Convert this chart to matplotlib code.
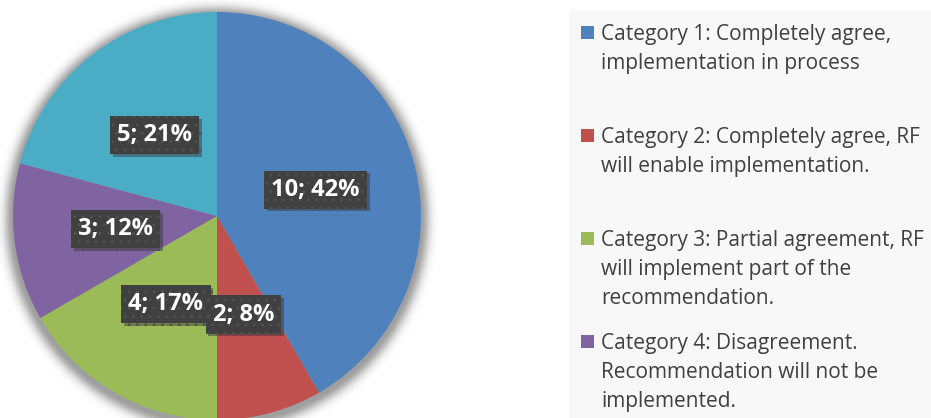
import matplotlib
matplotlib.use("Agg")
import matplotlib.pyplot as plt
import matplotlib.patheffects as pe
from matplotlib.patches import Rectangle
import numpy as np

categories = [
    "Category 1: Completely agree,\nimplementation in process",
    "Category 2: Completely agree, RF\nwill enable implementation.",
    "Category 3: Partial agreement, RF\nwill implement part of the\nrecommendation.",
    "Category 4: Disagreement.\nRecommendation will not be\nimplemented.",
    "Category 5",
]
counts = [10, 2, 4, 3, 5]
colors = ["#4F81BD", "#C0504D", "#9BBB59", "#8064A2", "#4BACC6"]
total = sum(counts)

W, H = 931, 418
fig = plt.figure(figsize=(W / 100, H / 100), dpi=100)
ax = fig.add_axes([0, 0, 1, 1])

cx, cy, r = 217, H - 216, 204

# soft shadow around the pie
X, Y = np.meshgrid(np.arange(W) + 0.5, np.arange(H) + 0.5)
d = np.hypot(X - cx, Y - (cy - 3)) - r
shadow = np.zeros((H, W, 4))
shadow[..., 3] = 0.38 * np.exp(-(np.clip(d, 0, None) / 9.0) ** 2)
ax.imshow(shadow, extent=(0, W, 0, H), origin="lower", zorder=0,
          interpolation="nearest")

wedges, _, autotexts = ax.pie(
    counts,
    colors=colors,
    startangle=90,
    counterclock=False,
    center=(cx, cy),
    radius=r,
    autopct=lambda p: f"{round(p * total / 100)}; {p:.0f}%",
    pctdistance=0.5,
    wedgeprops=dict(linewidth=0, zorder=2),
    frame=True,
)
ax.set_xlim(0, W)
ax.set_ylim(0, H)
ax.set_aspect("equal")
ax.axis("off")

for t in autotexts:
    t.set_color("white")
    t.set_fontsize(17)
    t.set_fontweight("bold")
    t.set_family("Open Sans")
    t.set_bbox(dict(boxstyle="square,pad=0.3", facecolor="#404040",
                    edgecolor="#505050", linewidth=0, hatch=".."))
    t.get_bbox_patch().set_path_effects([
        pe.SimplePatchShadow(offset=(2, -2), alpha=0.45, shadow_rgbFace="#333333"),
        pe.Normal(),
    ])
    t.set_zorder(5)
autotexts[1].set_zorder(6)

# legend panel
ax.add_patch(Rectangle((569, 0), W - 569, H - 10, facecolor="#f8f8f8",
                       edgecolor="none", zorder=3))
pitch = 103
line_h = 29
for i, (label, col) in enumerate(zip(categories[:4], colors[:4])):
    top = 26 + i * pitch
    ax.add_patch(Rectangle((581, H - top - 13), 13, 13, facecolor=col,
                           edgecolor="none", zorder=4))
    for k, line in enumerate(label.split("\n")):
        ax.text(601, H - (top + 14 + k * line_h), line, ha="left", va="baseline",
                fontsize=15, family="Open Sans", color="#404040", zorder=4)

fig.savefig("out.png", dpi=100)
